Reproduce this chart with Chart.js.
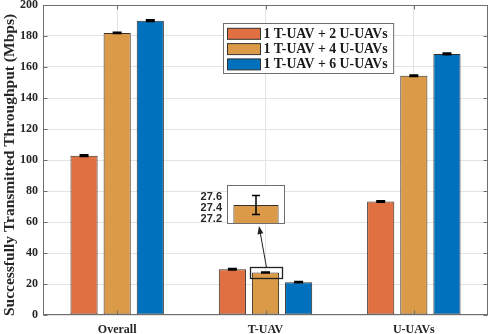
<!DOCTYPE html>
<html><head><meta charset="utf-8">
<script src="https://cdn.jsdelivr.net/npm/chart.js@4"></script>
<style>
html,body{margin:0;padding:0;background:#fff;}
#wrap{position:relative;width:490px;height:334px;overflow:hidden;}
#main{position:absolute;left:0;top:0;}
#inset{position:absolute;left:196px;top:180px;}
</style>
</head><body>
<div id="wrap"><canvas id="main" width="490" height="334"></canvas><canvas id="inset" width="89" height="45"></canvas></div>
<script>
// ---- data ----
const categories = ['Overall', 'T-UAV', 'U-UAVs'];
const seriesLabels = ['1 T-UAV + 2 U-UAVs', '1 T-UAV + 4 U-UAVs', '1 T-UAV + 6 U-UAVs'];
const values2 = [102.8, 29.5, 73.2];
const values4 = [182.0, 27.45, 154.4];
const values6 = [189.9, 21.2, 168.4];
const errors2 = [0.35, 0.35, 0.3];
const errors4 = [0.3, 0.165, 0.35];
const errors6 = [0.35, 0.3, 0.4];
const yTicks = [0, 20, 40, 60, 80, 100, 120, 140, 160, 180, 200];
const insetCategories = ['T-UAV'];
const insetValues = [27.45];
const insetErrors = [0.165];
const insetTicks = [27.2, 27.4, 27.6];
const insetRange = [27.12, 27.8];
const zoomBoxRange = [23.7, 30.8];   // value range marked by the small box
const yTitle = 'Successfully Transmitted Throughput (Mbps)';

const colors = ['#E07042', '#DA9A48', '#0072BD'];
const AX = '#6e6e6e';
const SERIF = "'Liberation Serif', 'Times New Roman', serif";
const SANS = "'Liberation Sans', Arial, sans-serif";

function zeroPad(s) { s.paddingTop = 0; s.paddingBottom = 0; s.paddingLeft = 0; s.paddingRight = 0; }

function drawErrors(chart, ctx, errs, capHalf, lw) {
  const ys = chart.scales.y;
  ctx.save();
  ctx.strokeStyle = '#000';
  ctx.lineWidth = lw;
  chart.data.datasets.forEach((ds, di) => {
    const meta = chart.getDatasetMeta(di);
    meta.data.forEach((bar, i) => {
      const e = errs[di][i];
      const v = ds.data[i];
      const yt = ys.getPixelForValue(v + e), yb = ys.getPixelForValue(v - e);
      ctx.beginPath();
      ctx.moveTo(bar.x, yt); ctx.lineTo(bar.x, yb);
      ctx.moveTo(bar.x - capHalf, yt); ctx.lineTo(bar.x + capHalf, yt);
      ctx.moveTo(bar.x - capHalf, yb); ctx.lineTo(bar.x + capHalf, yb);
      ctx.stroke();
    });
  });
  ctx.restore();
}

const mainPlugin = {
  id: 'mainDeco',
  afterDatasetsDraw(chart) {
    const ctx = chart.ctx, a = chart.chartArea;
    const xs = chart.scales.x, ys = chart.scales.y;
    drawErrors(chart, ctx, [errors2, errors4, errors6], 4.5, 2);
    // box
    ctx.save();
    ctx.strokeStyle = AX; ctx.lineWidth = 1;
    const L = Math.round(a.left) + 0.5, R = Math.round(a.right) - 0.5, T = Math.round(a.top) + 0.5, B = Math.round(a.bottom) - 0.5;
    ctx.strokeRect(L, T, R - L, B - T);
    ctx.beginPath();
    yTicks.forEach(v => {
      const y = Math.round(ys.getPixelForValue(v)) + 0.5;
      ctx.moveTo(L, y); ctx.lineTo(L + 4, y);
      ctx.moveTo(R, y); ctx.lineTo(R - 4, y);
    });
    categories.forEach((c, i) => {
      const x = Math.round(xs.getPixelForValue(i)) + 0.5;
      ctx.moveTo(x, B); ctx.lineTo(x, B - 4);
      ctx.moveTo(x, T); ctx.lineTo(x, T + 4);
    });
    ctx.stroke();
    // y title
    ctx.save();
    ctx.translate(9.5, 165);
    ctx.rotate(-Math.PI / 2);
    ctx.font = 'bold 15.5px ' + SERIF;
    ctx.fillStyle = '#262626';
    ctx.textAlign = 'center'; ctx.textBaseline = 'middle';
    ctx.fillText(yTitle, 0, 0);
    ctx.restore();
    // zoom box around T-UAV 4-UAV bar
    const bar = chart.getDatasetMeta(1).data[1];
    const zx0 = Math.round(bar.x - 16) + 0.5, zx1 = Math.round(bar.x + 16) + 0.5;
    const zy0 = Math.round(ys.getPixelForValue(zoomBoxRange[1])) + 0.5, zy1 = Math.round(ys.getPixelForValue(zoomBoxRange[0])) + 0.5;
    ctx.strokeStyle = '#222'; ctx.lineWidth = 1.3;
    ctx.strokeRect(zx0, zy0, zx1 - zx0, zy1 - zy0);
    // arrow to inset
    const sx = (zx0 + zx1) / 2, sy = zy0;
    const ex = 259, ey = 226;
    const ang = Math.atan2(ey - sy, ex - sx);
    ctx.lineWidth = 1; ctx.strokeStyle = '#222'; ctx.fillStyle = '#222';
    ctx.beginPath(); ctx.moveTo(sx, sy); ctx.lineTo(ex - 6 * Math.cos(ang), ey - 6 * Math.sin(ang)); ctx.stroke();
    ctx.beginPath();
    ctx.moveTo(ex, ey);
    ctx.lineTo(ex - 8 * Math.cos(ang) + 3 * Math.sin(ang), ey - 8 * Math.sin(ang) - 3 * Math.cos(ang));
    ctx.lineTo(ex - 8 * Math.cos(ang) - 3 * Math.sin(ang), ey - 8 * Math.sin(ang) + 3 * Math.cos(ang));
    ctx.closePath(); ctx.fill();
    // legend
    ctx.font = 'bold 13.8px ' + SERIF;
    let maxW = 0;
    chart.data.datasets.forEach(ds => { maxW = Math.max(maxW, ctx.measureText(ds.label).width); });
    const lx = 223.5, ly = 23.5, rowH = 15.3;
    const bw = 4 + 33 + 4 + maxW + 5, bh = 50;
    ctx.fillStyle = '#fff';
    ctx.fillRect(lx, ly, bw, bh);
    ctx.strokeStyle = AX; ctx.lineWidth = 1;
    ctx.strokeRect(lx, ly, bw, bh);
    chart.data.datasets.forEach((ds, i) => {
      const cy = ly + 10.3 + i * rowH;
      ctx.fillStyle = ds.backgroundColor;
      ctx.fillRect(lx + 4, cy - 5.5, 33, 11);
      ctx.strokeStyle = '#333';
      ctx.strokeRect(lx + 4, cy - 5.5, 33, 11);
      ctx.fillStyle = '#1a1a1a';
      ctx.textBaseline = 'middle';
      ctx.fillText(ds.label, lx + 40, cy + 0.5);
    });
    ctx.restore();
  }
};

new Chart(document.getElementById('main'), {
  type: 'bar',
  data: {
    labels: categories,
    datasets: [
      { label: seriesLabels[0], data: values2, backgroundColor: colors[0] },
      { label: seriesLabels[1], data: values4, backgroundColor: colors[1] },
      { label: seriesLabels[2], data: values6, backgroundColor: colors[2] }
    ].map(d => Object.assign(d, { borderColor: '#3a2e28', borderWidth: 1, borderSkipped: false }))
  },
  options: {
    responsive: false, animation: false,
    layout: { padding: { left: 0, top: 5, right: 2, bottom: 0 } },
    datasets: { bar: { categoryPercentage: 0.67, barPercentage: 0.82 } },
    plugins: { legend: { display: false }, tooltip: { enabled: false } },
    scales: {
      x: {
        afterFit: s => { s.height = 19; zeroPad(s); },
        grid: { color: '#e3e3e3', offset: false, drawTicks: false },
        border: { display: false },
        ticks: { font: { family: SERIF, weight: 'bold', size: 12 }, color: '#262626', padding: 8, maxRotation: 0 }
      },
      y: {
        min: 0, max: 200,
        afterFit: s => { s.width = 43; zeroPad(s); },
        afterBuildTicks: s => { s.ticks = yTicks.map(v => ({ value: v })); },
        grid: { color: '#e3e3e3', drawTicks: false },
        border: { display: false },
        ticks: { font: { family: SERIF, weight: 'bold', size: 12 }, color: '#262626', padding: 5, autoSkip: false }
      }
    }
  },
  plugins: [mainPlugin]
});

const insetPlugin = {
  id: 'insetDeco',
  beforeDatasetsDraw(chart) {
    const ctx = chart.ctx, a = chart.chartArea;
    ctx.save(); ctx.fillStyle = '#fff';
    ctx.fillRect(a.left, a.top, a.right - a.left, a.bottom - a.top);
    ctx.restore();
  },
  afterDatasetsDraw(chart) {
    const ctx = chart.ctx, a = chart.chartArea;
    drawErrors(chart, ctx, [insetErrors], 4, 1.5);
    ctx.save();
    ctx.strokeStyle = AX; ctx.lineWidth = 1;
    const L = Math.round(a.left) + 0.5, R = Math.round(a.right) - 0.5, T = Math.round(a.top) + 0.5, B = Math.round(a.bottom) - 0.5;
    ctx.strokeRect(L, T, R - L, B - T);
    ctx.restore();
  }
};

new Chart(document.getElementById('inset'), {
  type: 'bar',
  data: {
    labels: insetCategories,
    datasets: [{ label: seriesLabels[1], data: insetValues, backgroundColor: colors[1], borderColor: '#3a2e28', borderWidth: 1, borderSkipped: false }]
  },
  options: {
    responsive: false, animation: false,
    layout: { padding: { left: 0, top: 5, right: 0, bottom: 1 } },
    datasets: { bar: { categoryPercentage: 1, barPercentage: 0.78 } },
    plugins: { legend: { display: false }, tooltip: { enabled: false } },
    scales: {
      x: { display: false },
      y: {
        min: insetRange[0], max: insetRange[1],
        afterFit: s => { s.width = 31; zeroPad(s); },
        afterBuildTicks: s => { s.ticks = insetTicks.map(v => ({ value: v })); },
        grid: { display: false, drawTicks: false },
        border: { display: false },
        ticks: { font: { family: SANS, weight: 'bold', size: 11 }, color: '#262626', padding: 5, autoSkip: false, callback: v => Number(v).toFixed(1) }
      }
    }
  },
  plugins: [insetPlugin]
});
</script>
</body></html>
